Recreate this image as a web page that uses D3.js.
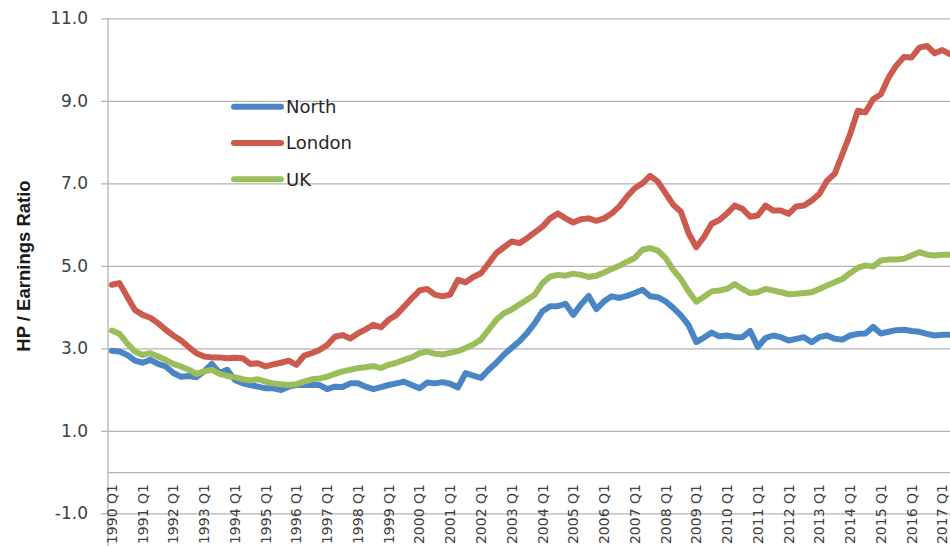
<!doctype html>
<html lang="en">
  <head>
    <meta charset="utf-8">
    <title>HP / Earnings Ratio</title>
    <script src="https://d3js.org/d3.v7.min.js"></script>
    <style>
      body { margin: 0; background: #fff; }
      svg { display: block; }
      .grid line { stroke: #b3b3b3; stroke-width: 1.3; }
      .grid text { font-family: "DejaVu Sans", sans-serif; font-size: 17px; fill: #404040; }
      .xaxis text { font-family: "DejaVu Sans", sans-serif; font-size: 14px; fill: #404040; }
      .legend text { font-family: "DejaVu Sans", sans-serif; font-size: 18px; fill: #262626; }
      .series { fill: none; stroke-width: 6; stroke-linejoin: round; stroke-linecap: round; }
    </style>
  </head>
  <body>
    <script>

      // quarterly, 1990 Q1 .. 2017 Q2
      var years = d3.range(1990, 2018);
      var quarters = ["Q1", "Q2", "Q3", "Q4"];
      var categories = [];
      years.forEach(function(y){
        quarters.forEach(function(q){ categories.push(y + " " + q); });
      });
      categories = categories.slice(0, 110);

      var yTicks = [-1, 1, 3, 5, 7, 9, 11];

      var north = [2.94,2.92,2.84,2.70,2.65,2.72,2.62,2.56,2.40,2.31,2.33,2.30,2.44,2.62,2.40,2.48,
        2.23,2.15,2.11,2.07,2.03,2.03,1.99,2.07,2.11,2.11,2.11,2.11,2.01,2.07,2.06,2.15,
        2.15,2.07,2.01,2.06,2.11,2.15,2.19,2.11,2.03,2.17,2.15,2.18,2.14,2.05,2.40,2.34,
        2.28,2.48,2.65,2.85,3.01,3.17,3.37,3.61,3.90,4.02,4.02,4.08,3.81,4.06,4.27,3.95,
        4.14,4.26,4.22,4.27,4.34,4.42,4.26,4.24,4.14,3.98,3.80,3.56,3.15,3.26,3.38,3.29,
        3.31,3.27,3.27,3.42,3.03,3.25,3.31,3.27,3.19,3.23,3.27,3.15,3.27,3.31,3.23,3.21,
        3.31,3.35,3.36,3.52,3.36,3.40,3.44,3.45,3.42,3.40,3.35,3.31,3.33,3.33];

      var london = [4.54,4.58,4.25,3.93,3.81,3.74,3.61,3.45,3.31,3.19,3.03,2.88,2.80,2.78,2.78,2.76,
        2.77,2.76,2.62,2.64,2.56,2.61,2.65,2.70,2.60,2.82,2.88,2.96,3.08,3.28,3.32,3.24,
        3.36,3.46,3.57,3.51,3.69,3.81,4.01,4.21,4.40,4.44,4.30,4.26,4.30,4.66,4.60,4.73,
        4.82,5.06,5.31,5.45,5.59,5.55,5.67,5.81,5.95,6.15,6.27,6.15,6.05,6.13,6.15,6.09,
        6.15,6.27,6.44,6.68,6.88,7.00,7.18,7.04,6.76,6.48,6.31,5.79,5.45,5.70,6.02,6.11,
        6.27,6.46,6.38,6.19,6.22,6.46,6.34,6.34,6.26,6.44,6.46,6.58,6.74,7.06,7.23,7.71,
        8.19,8.76,8.72,9.04,9.16,9.56,9.85,10.06,10.05,10.29,10.33,10.15,10.23,10.13];

      var uk = [3.43,3.35,3.12,2.92,2.84,2.88,2.80,2.72,2.62,2.56,2.48,2.38,2.44,2.48,2.38,2.33,
        2.30,2.25,2.22,2.25,2.19,2.15,2.13,2.11,2.13,2.19,2.25,2.27,2.31,2.38,2.44,2.48,
        2.52,2.54,2.57,2.52,2.60,2.65,2.72,2.78,2.88,2.92,2.87,2.85,2.89,2.93,3.01,3.09,
        3.21,3.45,3.69,3.85,3.94,4.06,4.18,4.30,4.58,4.74,4.78,4.76,4.81,4.78,4.73,4.76,
        4.84,4.92,5.00,5.10,5.19,5.39,5.43,5.37,5.19,4.90,4.68,4.38,4.13,4.25,4.38,4.40,
        4.44,4.56,4.44,4.34,4.36,4.44,4.40,4.36,4.31,4.32,4.34,4.36,4.44,4.52,4.60,4.68,
        4.82,4.95,5.01,4.98,5.13,5.15,5.15,5.17,5.25,5.33,5.27,5.25,5.27,5.27];

      var seriesNames = ["North", "London", "UK"];
      var seriesColors = ["#4a86c6", "#cd5a4f", "#9bbe5b"];
      var seriesValues = [north, london, uk];

      var width = 950, height = 546;
      var plotLeft = 108, plotTop = 18.3, plotBottom = 513.3;

      var svg = d3.select("body").append("svg")
          .attr("width", width)
          .attr("height", height);

      var x = d3.scaleBand()
          .domain(categories)
          .range([plotLeft, plotLeft + categories.length * 7.69]);

      var y = d3.scaleLinear()
          .domain([-1, 11])
          .range([plotBottom, plotTop]);

      var plotW = x.range()[1] - plotLeft;

      // gridlines + value labels (plain hyphen for the minus, as in the original)
      var grid = svg.append("g")
          .attr("class", "grid")
          .attr("transform", "translate(" + plotLeft + ",0)")
          .call(d3.axisLeft(y)
            .tickValues(yTicks)
            .tickFormat(function(d){ return d.toFixed(1); })
            .tickSize(-plotW)
            .tickPadding(20));
      grid.select(".domain").remove();
      grid.selectAll(".tick line").attr("x1", -7);

      // vertical axis line
      svg.append("line")
          .attr("x1", plotLeft).attr("x2", plotLeft)
          .attr("y1", plotTop).attr("y2", height)
          .attr("stroke", "#b3b3b3")
          .attr("stroke-width", 1.3);

      // category axis, crossing at zero
      var xaxis = svg.append("g")
          .attr("class", "xaxis")
          .attr("transform", "translate(0," + y(0) + ")")
          .call(d3.axisBottom(x)
            .tickValues(categories.filter(function(d){ return d.slice(-2) == "Q1"; }))
            .tickSize(0)
            .tickSizeOuter(0));
      xaxis.select(".domain").attr("stroke", "#b3b3b3").attr("stroke-width", 1.3);
      xaxis.selectAll(".tick text")
          .attr("transform", "rotate(-90)")
          .attr("text-anchor", "end")
          .attr("x", -12)
          .attr("y", 0)
          .attr("dy", "0.36em");

      // y title
      svg.append("text")
          .attr("transform", "translate(30,266) rotate(-90)")
          .attr("text-anchor", "middle")
          .style("font-family", "'Liberation Sans', Arial, sans-serif")
          .style("font-weight", "bold")
          .style("font-size", "18.5px")
          .style("fill", "#1a1a1a")
          .text("HP / Earnings Ratio");

      var line = d3.line()
          .x(function(d, i){ return x(categories[i]) + x.bandwidth() / 2; })
          .y(function(d){ return y(d); });

      svg.selectAll(".series")
          .data(seriesValues)
          .enter().append("path")
          .attr("class", "series")
          .attr("stroke", function(d, i){ return seriesColors[i]; })
          .attr("d", line);

      // legend
      var legend = svg.append("g").attr("class", "legend");
      var items = legend.selectAll("g")
          .data(seriesNames)
          .enter().append("g")
          .attr("transform", function(d, i){ return "translate(232," + (106.7 + i * 36.3) + ")"; });
      items.append("line")
          .attr("x1", 2).attr("x2", 49)
          .attr("stroke", function(d, i){ return seriesColors[i]; })
          .attr("stroke-width", 6)
          .attr("stroke-linecap", "round");
      items.append("text")
          .attr("x", 54)
          .attr("dy", "0.36em")
          .text(function(d){ return d; });

    </script>
  </body>
</html>
